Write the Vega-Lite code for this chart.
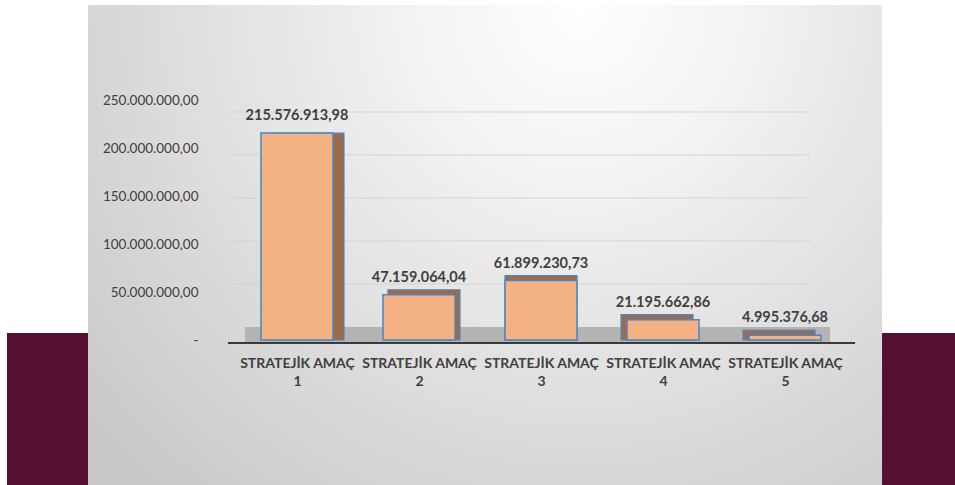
{
  "$schema": "https://vega.github.io/schema/vega-lite/v6.json",
  "width": 955,
  "height": 485,
  "autosize": {"type": "none"},
  "padding": 0,
  "background": "#ffffff",
  "config": {
    "view": {"stroke": null},
    "font": "Lato",
    "locale": {"number": {"decimal": ",", "thousands": ".", "grouping": [3], "currency": ["", ""]}}
  },
  "datasets": {
    "amac": [
      {"no": 1, "amac": "STRATEJİK AMAÇ 1", "tutar": 215576913.98},
      {"no": 2, "amac": "STRATEJİK AMAÇ 2", "tutar": 47159064.04},
      {"no": 3, "amac": "STRATEJİK AMAÇ 3", "tutar": 61899230.73},
      {"no": 4, "amac": "STRATEJİK AMAÇ 4", "tutar": 21195662.86},
      {"no": 5, "amac": "STRATEJİK AMAÇ 5", "tutar": 4995376.68}
    ],
    "grid": [
      {"v": 50000000},
      {"v": 100000000},
      {"v": 150000000},
      {"v": 200000000},
      {"v": 250000000}
    ],
    "one": [{}]
  },
  "resolve": {"scale": {"y": "independent"}},
  "layer": [
    {
      "data": {"name": "one"},
      "layer": [
        {
          "mark": {"type": "rect", "color": "#541030"},
          "encoding": {
            "x": {"datum": -1.377, "type": "quantitative", "scale": {"domain": [-1.434, 6.393], "nice": false, "zero": false, "padding": 0}},
            "x2": {"datum": 6.393},
            "y": {"datum": 7290000, "type": "quantitative", "scale": {"domain": [-151041667, 354166667], "nice": false, "zero": false}, "axis": null},
            "y2": {"datum": -151041667}
          }
        },
        {
          "mark": {
            "type": "rect",
            "color": {
              "gradient": "radial",
              "x1": 0.62, "y1": 0.2, "r1": 0,
              "x2": 0.62, "y2": 0.2, "r2": 0.8,
              "stops": [
                {"offset": 0, "color": "#ffffff"},
                {"offset": 0.3, "color": "#f1f1f1"},
                {"offset": 1, "color": "#c9c9c9"}
              ]
            }
          },
          "encoding": {
            "x": {"datum": -0.713, "type": "quantitative"},
            "x2": {"datum": 5.795},
            "y": {"datum": 348958333, "type": "quantitative", "axis": null},
            "y2": {"datum": -151041667}
          }
        },
        {
          "mark": {"type": "rect", "color": "#b3b3b3"},
          "encoding": {
            "x": {"datum": 0.574, "type": "quantitative"},
            "x2": {"datum": 5.369},
            "y": {"datum": 13540000, "type": "quantitative", "axis": null},
            "y2": {"datum": -3125000}
          }
        },
        {
          "mark": {"type": "rule", "color": "#3b3b3b", "strokeWidth": 2},
          "encoding": {
            "x": {"datum": 0.434, "type": "quantitative"},
            "x2": {"datum": 5.574},
            "y": {"datum": -3125000, "type": "quantitative", "axis": null}
          }
        }
      ]
    },
    {
      "data": {"name": "grid"},
      "mark": {"type": "rule", "color": "#d4d4d4", "strokeWidth": 1},
      "encoding": {
        "x": {"datum": 0.434, "type": "quantitative"},
        "x2": {"datum": 5.213},
        "y": {"field": "v", "type": "quantitative", "scale": {"domain": [-183720000, 380230000], "nice": false, "zero": false}, "axis": null}
      }
    },
    {
      "data": {"name": "amac"},
      "layer": [
        {
          "mark": {
            "type": "bar", "width": 72, "color": "#9d6b4c", "stroke": "#4a86c5", "strokeWidth": 1.2,
            "xOffset": {"expr": "datum.no == 1 ? 11 : datum.no == 2 ? 5 : datum.no == 3 ? 0 : datum.no == 4 ? -6 : -6"},
            "yOffset": {"expr": "datum.tutar > 100000000 ? 0 : -5"}
          },
          "encoding": {
            "x": {"field": "no", "type": "quantitative"},
            "y": {"field": "tutar", "type": "quantitative", "scale": {"domain": [-151041667, 354166667], "nice": false, "zero": false}},
            "y2": {"datum": 0}
          }
        },
        {
          "mark": {"type": "bar", "width": 72, "color": "#f4b183", "stroke": "#4a86c5", "strokeWidth": 1.5},
          "encoding": {
            "x": {
              "field": "no", "type": "quantitative",
              "axis": {
                "orient": "bottom", "offset": -135, "values": [1, 2, 3, 4, 5],
                "labelExpr": "['STRATEJİK AMAÇ', '' + datum.value]",
                "domain": false, "ticks": false, "grid": false, "labelPadding": 6,
                "labelFont": "Lato", "labelFontWeight": "bold", "labelFontSize": 14,
                "labelColor": "#404040", "labelLineHeight": 18, "labelFlush": false, "labelOverlap": false,
                "title": null, "zindex": 2
              }
            },
            "y": {
              "field": "tutar", "type": "quantitative",
              "axis": {
                "orient": "left", "offset": -198, "values": [0, 50000000, 100000000, 150000000, 200000000, 250000000],
                "format": ",.2f", "labelExpr": "datum.value == 0 ? '-' : datum.label",
                "domain": false, "ticks": false, "grid": false, "labelPadding": 0,
                "labelFont": "Lato", "labelFontSize": 13.5, "labelColor": "#404040",
                "title": null, "zindex": 2
              }
            },
            "y2": {"datum": 0}
          }
        },
        {
          "mark": {"type": "text", "dy": -17, "baseline": "middle", "font": "Lato", "fontWeight": "bold", "fontSize": 14.5, "color": "#404040"},
          "encoding": {
            "x": {"field": "no", "type": "quantitative"},
            "y": {"field": "tutar", "type": "quantitative"},
            "text": {"field": "tutar", "type": "quantitative", "format": ",.2f"}
          }
        }
      ]
    }
  ]
}
